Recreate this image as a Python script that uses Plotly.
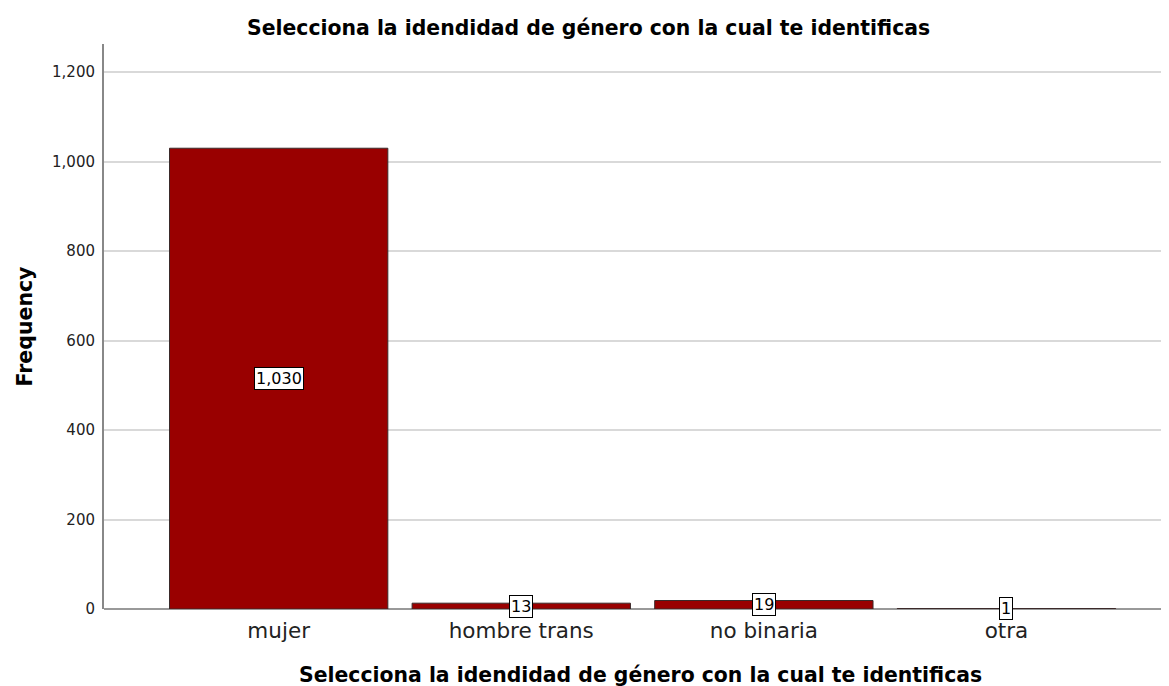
import plotly.graph_objects as go

categories = ["mujer", "hombre trans", "no binaria", "otra"]
frequencies = [1030, 13, 19, 1]
value_labels = ["1,030", "13", "19", "1"]
y_ticks = [0, 200, 400, 600, 800, 1000, 1200]
y_tick_text = ["0", "200", "400", "600", "800", "1,000", "1,200"]

title_text = "Selecciona la idendidad de género con la cual te identificas"
font_family = "DejaVu Sans"

fig = go.Figure()
fig.add_trace(go.Bar(
    x=list(range(len(categories))),
    y=frequencies,
    width=0.9,
    marker=dict(color="#990000", line=dict(color="#3a2a2a", width=1)),
    hoverinfo="skip",
))

for i, (v, lab) in enumerate(zip(frequencies, value_labels)):
    fig.add_annotation(
        x=i, y=v / 2, text=lab, showarrow=False,
        bgcolor="white", bordercolor="black", borderwidth=1, borderpad=1,
        font=dict(family=font_family, size=16, color="black"),
    )

# chart title (centred on the page)
fig.add_annotation(
    text="<b>" + title_text + "</b>", xref="paper", yref="paper",
    x=0.5, xshift=-48, y=1, yshift=16, xanchor="center", yanchor="middle", showarrow=False,
    font=dict(family=font_family, size=20.4, color="black"),
)
# x-axis title
fig.add_annotation(
    text="<b>" + title_text + "</b>", xref="paper", yref="paper",
    x=0.5, xshift=4, y=0, yshift=-66, xanchor="center", yanchor="middle", showarrow=False,
    font=dict(family=font_family, size=20.4, color="black"),
)
# y-axis title
fig.add_annotation(
    text="<b>Frequency</b>", xref="paper", yref="paper", textangle=-90,
    x=0, xshift=-80, y=0.5, xanchor="center", yanchor="middle", showarrow=False,
    font=dict(family=font_family, size=20.5, color="black"),
)

# the page body adds an 8px offset; compensate so the plot lands where the reference has it
fig.update_layout(
    width=1161, height=678,
    paper_bgcolor="white", plot_bgcolor="white",
    margin=dict(l=96, r=0, t=36, b=77),
    showlegend=False,
    font=dict(family=font_family, color="black"),
)
fig.update_xaxes(
    range=[-0.72, 3.67], automargin=False,
    tickvals=list(range(len(categories))), ticktext=categories,
    tickfont=dict(size=21.5, color="#222"), ticklabelstandoff=6,
    showgrid=False, showline=False, ticks="", zeroline=False,
)
fig.update_yaxes(
    range=[0, 1263], automargin=False,
    tickvals=y_ticks, ticktext=y_tick_text,
    tickfont=dict(size=15, color="#222"), ticklabelstandoff=4,
    showgrid=True, gridcolor="#d9d9d9", gridwidth=2,
    showline=True, linecolor="#888", linewidth=2,
    ticks="",
    zeroline=True, zerolinecolor="#999", zerolinewidth=2,
)

fig.write_html("out.html")
